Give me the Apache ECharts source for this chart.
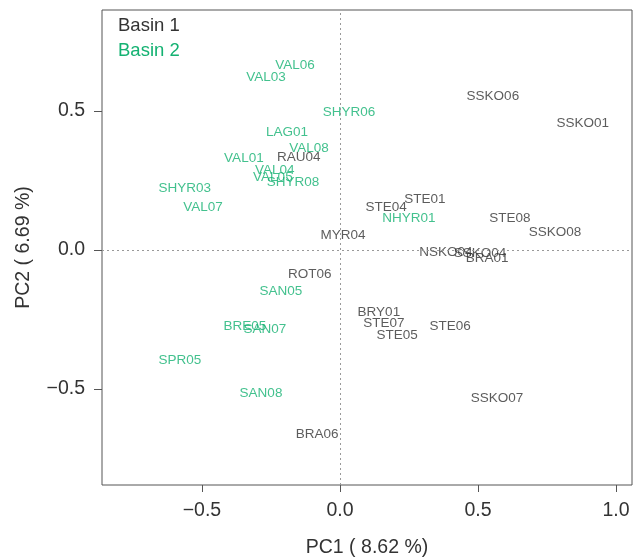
<!DOCTYPE html>
<html>
<head>
<meta charset="utf-8">
<script src="https://cdn.jsdelivr.net/npm/echarts@6/dist/echarts.min.js"></script>
<style>html,body{margin:0;padding:0;background:#fff}#c{width:633px;height:558px}</style>
</head>
<body>
<div id="c"></div>
<script>
// Basin 1 labels and PCA scores
const basin1Names = ['SSKO06','SSKO01','STE01','STE04','STE08','SSKO08','MYR04','NSKO04','SSKO04','BRA01','ROT06','BRY01','STE07','STE05','STE06','SSKO07','BRA06','RAU04'];
const basin1PC1 = [0.554,0.880,0.308,0.167,0.616,0.779,0.011,0.384,0.507,0.533,-0.109,0.141,0.159,0.207,0.399,0.569,-0.083,-0.149];
const basin1PC2 = [0.554,0.457,0.183,0.155,0.115,0.065,0.054,-0.007,-0.011,-0.029,-0.086,-0.223,-0.263,-0.306,-0.273,-0.532,-0.662,0.335];
// Basin 2 labels and PCA scores
const basin2Names = ['VAL06','VAL03','SHYR06','LAG01','VAL08','VAL01','VAL04','VAL05','SHYR08','SHYR03','VAL07','NHYR01','SAN05','BRE05','SAN07','SPR05','SAN08'];
const basin2PC1 = [-0.163,-0.268,0.033,-0.192,-0.112,-0.348,-0.236,-0.243,-0.170,-0.562,-0.496,0.250,-0.214,-0.344,-0.272,-0.580,-0.286];
const basin2PC2 = [0.665,0.622,0.496,0.424,0.367,0.331,0.288,0.263,0.245,0.223,0.155,0.115,-0.147,-0.273,-0.284,-0.396,-0.514];
const tickValues = [-0.5, 0.0, 0.5, 1.0];
const tickLabels = ['\u22120.5','0.0','0.5','1.0'];

const black = '#333333', green = '#14b272';
const font = 'Liberation Sans, Arial, Helvetica, sans-serif';
function pts(names, xs, ys){ return names.map((n,i)=>[xs[i], ys[i], n]); }
function fmtTick(v){ const i = tickValues.findIndex(t=>Math.abs(t-v)<1e-9); return i>=0 ? tickLabels[i] : ''; }

const chart = echarts.init(document.getElementById('c'), null, {renderer:'canvas'});
const labelSeries = (name, data, color) => ({
  name, type:'scatter', data, symbolSize:0, silent:true,
  itemStyle:{color},
  label:{show:true, position:'inside', formatter:p=>p.value[2], color, fontSize:13.5, fontFamily:font},
  labelLayout:{hideOverlap:false}
});
chart.setOption({
  animation:false,
  backgroundColor:'#ffffff',
  grid:{left:102, right:1, top:10, bottom:73, outerBoundsMode:'none', containLabel:false,
        show:true, borderColor:'#555', borderWidth:1, backgroundColor:'transparent'},
  legend:{
    orient:'vertical', left:108, top:11, itemWidth:0, itemHeight:0, itemGap:6, icon:'none',
    data:[{name:'Basin 1', textStyle:{color:black}},{name:'Basin 2', textStyle:{color:green}}],
    textStyle:{fontSize:18.5, fontFamily:font, padding:0}
  },
  xAxis:{
    type:'value', min:-0.862, max:1.058,
    name:'PC1 ( 8.62 %)', nameLocation:'middle', nameGap:53,
    nameTextStyle:{fontSize:19.5, color:black, fontFamily:font},
    axisLine:{show:false, onZero:false},
    axisTick:{show:true, length:7, customValues:tickValues, lineStyle:{color:'#555'}},
    axisLabel:{customValues:tickValues, formatter:fmtTick, margin:16, fontSize:19.5, color:black, fontFamily:font},
    splitLine:{show:false}
  },
  yAxis:{
    type:'value', min:-0.845, max:0.863,
    name:'PC2 ( 6.69 %)', nameLocation:'middle', nameGap:68, nameRotate:90,
    nameTextStyle:{fontSize:19.5, color:black, fontFamily:font},
    axisLine:{show:false, onZero:false},
    axisTick:{show:true, length:8, customValues:tickValues.slice(0,3), lineStyle:{color:'#555'}},
    axisLabel:{customValues:tickValues.slice(0,3), formatter:fmtTick, margin:17, fontSize:19.5, color:black, fontFamily:font},
    splitLine:{show:false}
  },
  series:[
    Object.assign(labelSeries('Basin 1', pts(basin1Names, basin1PC1, basin1PC2), black), {
      markLine:{silent:true, symbol:'none', label:{show:false},
        lineStyle:{color:'#999', type:[2,3], width:1},
        data:[{xAxis:0},{yAxis:0}]}
    }),
    labelSeries('Basin 2', pts(basin2Names, basin2PC1, basin2PC2), green)
  ]
});
</script>
</body>
</html>
